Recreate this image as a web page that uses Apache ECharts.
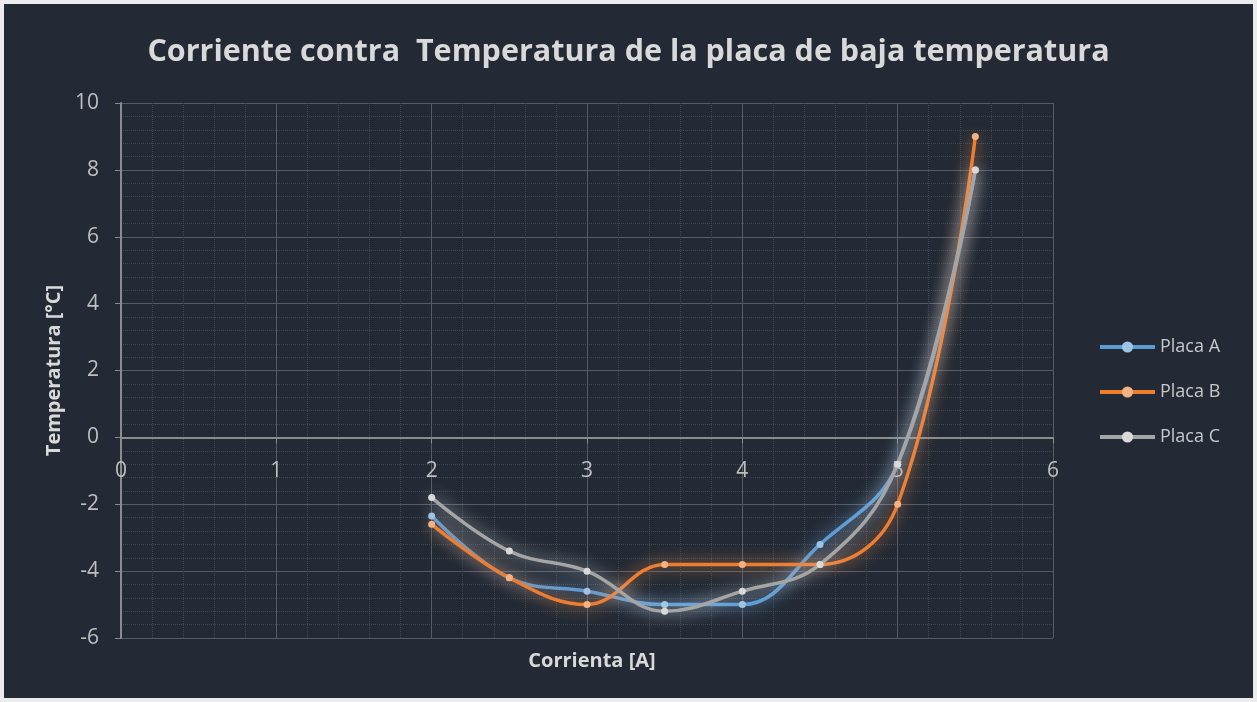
<!DOCTYPE html>
<html>
<head>
<meta charset="utf-8">
<script src="https://cdn.jsdelivr.net/npm/echarts@6/dist/echarts.min.js"></script>
<style>
  html, body { margin: 0; padding: 0; background: #ececec; width: 1257px; height: 702px; overflow: hidden; }
  #chart { position: absolute; left: 4px; top: 4px; width: 1249px; height: 694px; }
</style>
</head>
<body>
<div id="chart"></div>
<script>
// Data
const corriente = [2, 2.5, 3, 3.5, 4, 4.5, 5, 5.5];
const placaA = [-2.35, -4.2, -4.6, -5.0, -5.0, -3.2, -0.8, 8];
const placaB = [-2.6, -4.2, -5.0, -3.8, -3.8, -3.8, -2.0, 9];
const placaC = [-1.8, -3.4, -4.0, -5.2, -4.6, -3.8, -0.8, 8];
const seriesNames = ['Placa A', 'Placa B', 'Placa C'];
const xTicks = [0, 1, 2, 3, 4, 5, 6];
const yTicks = [-6, -4, -2, 0, 2, 4, 6, 8, 10];

const lineColors = ['#5b9bd5', '#ed7d31', '#a5a5a5'];
const markColors = ['#9dc3e6', '#f4b183', '#d9d9d9'];
const glowColors = ['rgba(120,175,230,0.95)', 'rgba(245,150,80,0.95)', 'rgba(230,230,230,0.85)'];
const FONT = '"Open Sans", sans-serif';

const gridTop = 99, gridBottom = 60, chartH = 694;
const plotH = chartH - gridTop - gridBottom;
const yMin = yTicks[0], yMax = yTicks[yTicks.length - 1];
// move the x axis up to y = 0 (offset from the bottom edge, through the axis scale span)
const xAxisOffset = -plotH * (0 - yMin) / (yMax - yMin);

const seriesData = [placaA, placaB, placaC];
const chart = echarts.init(document.getElementById('chart'));

chart.setOption({
  backgroundColor: '#232a35',
  animation: false,
  title: [
    {
      text: 'Corriente contra  Temperatura de la placa de baja temperatura',
      left: 'center',
      top: 28,
      textStyle: { color: '#d9d9d9', fontFamily: FONT, fontWeight: 'bold', fontSize: 30.5 }
    },
    {
      text: 'Corrienta [A]',
      left: 583,
      top: 642,
      textAlign: 'center',
      textStyle: { color: '#d9d9d9', fontFamily: FONT, fontWeight: 'bold', fontSize: 20 }
    }
  ],
  legend: {
    orient: 'vertical',
    left: 1089,
    top: 329,
    itemWidth: 55,
    itemHeight: 14,
    itemGap: 27,
    data: seriesNames,
    lineStyle: { width: 4 },
    textStyle: { color: '#c8c8c8', fontFamily: FONT, fontSize: 18 }
  },
  grid: { left: 117, right: 200, top: gridTop, bottom: gridBottom, containLabel: false },
  xAxis: {
    type: 'value',
    min: xTicks[0],
    max: xTicks[xTicks.length - 1],
    interval: 1,
    offset: xAxisOffset,
    axisLine: { onZero: false, lineStyle: { color: '#8c8c8c', width: 2 } },
    axisTick: { show: true, length: 6, lineStyle: { color: '#8c8c8c' } },
    axisLabel: { color: '#bfbfbf', fontFamily: FONT, fontSize: 21, margin: 23 },
    splitLine: { show: true, lineStyle: { color: '#565c66', width: 1 } },
    minorTick: { show: false, splitNumber: 5 },
    minorSplitLine: { show: true, lineStyle: { color: '#414853', type: 'dotted', width: 1 } }
  },
  yAxis: {
    type: 'value',
    min: yMin,
    max: yMax,
    interval: 2,
    name: 'Temperatura [°C]',
    nameLocation: 'middle',
    nameGap: 57,
    nameRotate: 90,
    nameTextStyle: { color: '#d9d9d9', fontFamily: FONT, fontWeight: 'bold', fontSize: 20 },
    axisLine: { show: true, onZero: false, lineStyle: { color: '#8c8c8c', width: 2 } },
    axisTick: { show: true, length: 6, lineStyle: { color: '#8c8c8c' } },
    axisLabel: { color: '#bfbfbf', fontFamily: FONT, fontSize: 21, margin: 22 },
    splitLine: { show: true, lineStyle: { color: '#565c66', width: 1 } },
    minorTick: { show: false, splitNumber: 5 },
    minorSplitLine: { show: true, lineStyle: { color: '#414853', type: 'dotted', width: 1 } }
  },
  series: seriesData.map((vals, i) => ({
    name: seriesNames[i],
    type: 'line',
    smooth: 0.4,
    data: corriente.map((x, j) => [x, vals[j]]),
    symbol: 'circle',
    symbolSize: 7,
    showSymbol: true,
    lineStyle: { color: lineColors[i], width: 3.5, shadowColor: glowColors[i], shadowBlur: 16 },
    itemStyle: { color: markColors[i], borderWidth: 0 },
    z: 2 + i
  }))
});
</script>
</body>
</html>
